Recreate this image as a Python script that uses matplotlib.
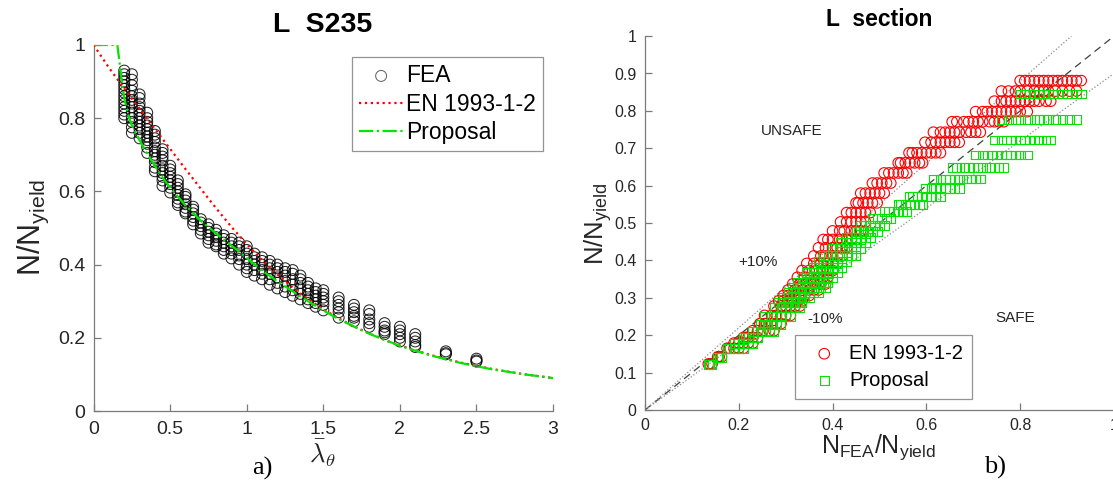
import numpy as np
import matplotlib
matplotlib.use('Agg')
import matplotlib.pyplot as plt

plt.rcParams['font.family'] = ['Liberation Sans', 'DejaVu Sans']
plt.rcParams['mathtext.fontset'] = 'custom'
plt.rcParams['mathtext.rm'] = 'Liberation Sans'
plt.rcParams['mathtext.it'] = 'Liberation Sans:italic'

# ---- data ----
# EN 1993-1-2 buckling curve (panel a)
en_lam = [0, 0.1, 0.2, 0.3, 0.4, 0.5, 0.6, 0.7, 0.8, 0.9, 1.0, 1.1, 1.2, 1.3, 1.4,
          1.5, 1.6, 1.7, 1.8, 1.9, 2.0, 2.2, 2.4, 2.6, 2.8, 3.0]
en_chi = [1.0, 0.938, 0.881, 0.826, 0.771, 0.716, 0.661, 0.607, 0.554, 0.503, 0.456,
          0.412, 0.373, 0.337, 0.306, 0.278, 0.253, 0.231, 0.212, 0.194, 0.179,
          0.153, 0.132, 0.115, 0.101, 0.090]

# Proposal curve (panel a)
prop_lam = [0, 0.155, 0.17, 0.185, 0.2, 0.225, 0.25, 0.3, 0.35, 0.4, 0.45, 0.5, 0.6,
            0.7, 0.8, 0.9, 1.0, 1.1, 1.2, 1.3, 1.4, 1.5, 1.6, 1.8, 2.0, 2.2, 2.4,
            2.6, 2.8, 3.0]
prop_chi = [1.0, 1.0, 0.95, 0.895, 0.855, 0.81, 0.78, 0.74, 0.703, 0.67, 0.638, 0.61,
            0.562, 0.52, 0.485, 0.452, 0.418, 0.384, 0.354, 0.327, 0.300, 0.275,
            0.251, 0.211, 0.178, 0.152, 0.131, 0.114, 0.101, 0.090]

# FEA results grouped by slenderness column
col_lam = [0.2, 0.25, 0.3, 0.35, 0.4, 0.45, 0.5, 0.55, 0.6, 0.65, 0.7, 0.75, 0.8,
           0.85, 0.9, 0.95, 1.0, 1.05, 1.1, 1.15, 1.2, 1.25, 1.3, 1.35, 1.4, 1.45,
           1.5, 1.6, 1.7, 1.8, 1.9, 2.0, 2.1, 2.3, 2.5]
# design values for each column (panel b rows)
col_en = [0.881, 0.853, 0.826, 0.798, 0.771, 0.743, 0.716, 0.688, 0.661, 0.634,
          0.607, 0.580, 0.554, 0.528, 0.503, 0.479, 0.456, 0.434, 0.412, 0.392,
          0.373, 0.355, 0.337, 0.321, 0.306, 0.292, 0.278, 0.253, 0.231, 0.212,
          0.194, 0.179, 0.165, 0.142, 0.123]
col_prop = [0.845, 0.778, 0.722, 0.682, 0.648, 0.618, 0.592, 0.570, 0.550, 0.530,
            0.512, 0.494, 0.478, 0.462, 0.447, 0.432, 0.413, 0.397, 0.382, 0.368,
            0.355, 0.342, 0.328, 0.315, 0.300, 0.287, 0.274, 0.250, 0.229, 0.210,
            0.193, 0.178, 0.164, 0.141, 0.122]
col_fea = [
    [0.93, 0.92, 0.91, 0.90, 0.89, 0.88, 0.87, 0.86, 0.85, 0.84, 0.83, 0.82, 0.81, 0.80],
    [0.92, 0.905, 0.89, 0.875, 0.86, 0.85, 0.84, 0.83, 0.815, 0.80, 0.79, 0.775, 0.76],
    [0.865, 0.855, 0.84, 0.83, 0.82, 0.81, 0.80, 0.79, 0.78, 0.77, 0.76, 0.745],
    [0.815, 0.80, 0.79, 0.78, 0.77, 0.76, 0.75, 0.74, 0.73, 0.72, 0.705],
    [0.765, 0.755, 0.745, 0.735, 0.72, 0.71, 0.70, 0.69, 0.68, 0.665, 0.655],
    [0.715, 0.705, 0.695, 0.685, 0.67, 0.66, 0.65, 0.64, 0.63, 0.615],
    [0.67, 0.66, 0.65, 0.64, 0.63, 0.62, 0.61, 0.597],
    [0.63, 0.62, 0.61, 0.60, 0.59, 0.58, 0.57, 0.563],
    [0.592, 0.585, 0.575, 0.565, 0.555, 0.545, 0.54],
    [0.558, 0.55, 0.54, 0.53, 0.52, 0.51],
    [0.524, 0.515, 0.505, 0.495, 0.485],
    [0.51, 0.50, 0.49, 0.48, 0.47, 0.46],
    [0.495, 0.485, 0.475, 0.465, 0.455, 0.45],
    [0.48, 0.47, 0.46, 0.45, 0.44, 0.43],
    [0.47, 0.46, 0.45, 0.44, 0.43, 0.417],
    [0.46, 0.45, 0.44, 0.425, 0.415, 0.40],
    [0.45, 0.44, 0.43, 0.415, 0.40, 0.39, 0.38],
    [0.43, 0.42, 0.41, 0.40, 0.385, 0.37],
    [0.42, 0.41, 0.40, 0.385, 0.375, 0.36],
    [0.41, 0.40, 0.39, 0.375, 0.36, 0.345],
    [0.40, 0.39, 0.38, 0.365, 0.35, 0.335],
    [0.39, 0.38, 0.37, 0.355, 0.34, 0.325],
    [0.385, 0.375, 0.36, 0.345, 0.33, 0.315],
    [0.37, 0.36, 0.35, 0.335, 0.32, 0.305],
    [0.35, 0.34, 0.33, 0.32, 0.305, 0.295],
    [0.335, 0.325, 0.315, 0.305, 0.295, 0.285],
    [0.33, 0.32, 0.31, 0.30, 0.29, 0.275],
    [0.31, 0.30, 0.29, 0.28, 0.27, 0.255],
    [0.29, 0.28, 0.27, 0.26, 0.255, 0.245],
    [0.275, 0.265, 0.25, 0.24, 0.23],
    [0.24, 0.23, 0.22, 0.215, 0.21],
    [0.23, 0.22, 0.21, 0.20, 0.19],
    [0.21, 0.20, 0.19, 0.18, 0.175],
    [0.163, 0.158, 0.155],
    [0.143, 0.138, 0.135],
]

a_ticks = [0, 0.5, 1, 1.5, 2, 2.5, 3]
a_ticklabels = ['0', '0.5', '1', '1.5', '2', '2.5', '3']
a_yticks = [0, 0.2, 0.4, 0.6, 0.8, 1]
a_yticklabels = ['0', '0.2', '0.4', '0.6', '0.8', '1']
b_ticks = [0, 0.2, 0.4, 0.6, 0.8, 1]
b_ticklabels = ['0', '0.2', '0.4', '0.6', '0.8', '1']
b_yticks = [0, 0.1, 0.2, 0.3, 0.4, 0.5, 0.6, 0.7, 0.8, 0.9, 1]
b_yticklabels = ['0', '0.1', '0.2', '0.3', '0.4', '0.5', '0.6', '0.7', '0.8', '0.9', '1']

RED = '#ff0000'
GREEN = '#00e600'
AXCOL = '#7a7a7a'
TXTCOL = '#262626'

# flatten column data
lam_pts, fea_pts, en_pts, prop_pts = [], [], [], []
for lam, en, pr, vals in zip(col_lam, col_en, col_prop, col_fea):
    for v in vals:
        lam_pts.append(lam)
        fea_pts.append(v)
        en_pts.append(en)
        prop_pts.append(pr)


def style_axes(ax, labelsize):
    for side in ['top', 'right']:
        ax.spines[side].set_visible(False)
    for side in ['left', 'bottom']:
        ax.spines[side].set_color(AXCOL)
        ax.spines[side].set_linewidth(0.9)
    ax.tick_params(direction='in', length=5, width=0.9, color=AXCOL,
                   labelcolor=TXTCOL, labelsize=labelsize)


fig = plt.figure(figsize=(11.13, 4.9), dpi=100)

# ---- panel a ----
ax1 = fig.add_axes([0.0841, 0.1612, 0.4128, 0.747])
ax1.scatter(lam_pts, fea_pts, s=62, facecolors='none', edgecolors='black',
            linewidths=0.75, alpha=0.85, label='FEA', zorder=3)
ax1.plot(en_lam, en_chi, ':', color=RED, lw=1.6, label='EN 1993-1-2', zorder=4)
ax1.plot(prop_lam, prop_chi, '-.', color=GREEN, lw=1.6, label='Proposal', zorder=4)
ax1.set_xlim(0, 3)
ax1.set_ylim(0, 1)
ax1.set_xticks(a_ticks)
ax1.set_xticklabels(a_ticklabels)
ax1.set_yticks(a_yticks)
ax1.set_yticklabels(a_yticklabels)
style_axes(ax1, 14)
ax1.tick_params(axis='x', pad=7)
ax1.tick_params(axis='y', pad=6)
leg1 = ax1.legend(loc='upper right', bbox_to_anchor=(0.978, 0.967), borderaxespad=0,
                  fontsize=16.5, frameon=True, fancybox=False, handlelength=1.9,
                  handletextpad=0.15, borderpad=0.3, labelspacing=0.25)
leg1.get_frame().set_edgecolor(AXCOL)
leg1.get_frame().set_linewidth(0.9)
for h in leg1.legend_handles:
    h.set_alpha(0.6 if h.get_label() == 'FEA' else 1)

fig.text(0.290, 0.949, 'L  S235', ha='center', va='center', fontsize=20.5,
         fontweight='bold')
fig.text(0.030, 0.535, r'N/N$_{\mathrm{yield}}$', ha='center', va='center',
         rotation=90, fontsize=22, color=TXTCOL)
fig.text(0.290, 0.076, r'$\bar{\lambda}_{\theta}$', ha='center', va='center',
         fontsize=19, color=TXTCOL, math_fontfamily='cm')
fig.text(0.236, 0.044, 'a)', ha='center', va='center', fontsize=19,
         family='Liberation Serif')

# ---- panel b ----
ax2 = fig.add_axes([0.5795, 0.1633, 0.4214, 0.763])
ax2.plot([0, 1], [0, 1], '--', color='#404040', lw=0.9, dashes=(6, 4), zorder=2)
ax2.plot([0, 1 / 1.1], [0, 1], ':', color='#8a8a8a', lw=0.9, zorder=2)
ax2.plot([0, 1], [0, 0.9], ':', color='#8a8a8a', lw=0.9, zorder=2)
ax2.scatter(fea_pts, en_pts, s=58, marker='o', facecolors='none', edgecolors=RED,
            linewidths=0.8, label='EN 1993-1-2', zorder=3)
ax2.scatter(fea_pts, prop_pts, s=40, marker='s', facecolors='none', edgecolors=GREEN,
            linewidths=0.8, label='Proposal', zorder=3)
ax2.set_xlim(0, 1)
ax2.set_ylim(0, 1)
ax2.set_xticks(b_ticks)
ax2.set_xticklabels(b_ticklabels)
ax2.set_yticks(b_yticks)
ax2.set_yticklabels(b_yticklabels)
style_axes(ax2, 11.5)
ax2.tick_params(axis='x', pad=6)
ax2.tick_params(axis='y', pad=6)

ax2.text(0.312, 0.747, 'UNSAFE', ha='center', va='center', fontsize=11, color=TXTCOL)
ax2.text(0.240, 0.397, '+10%', ha='center', va='center', fontsize=11, color=TXTCOL)
ax2.text(0.384, 0.243, '-10%', ha='center', va='center', fontsize=11, color=TXTCOL)
ax2.text(0.789, 0.246, 'SAFE', ha='center', va='center', fontsize=11, color=TXTCOL)

leg2 = ax2.legend(loc='lower left', bbox_to_anchor=(0.32, 0.029), borderaxespad=0,
                  fontsize=14.5, frameon=True, fancybox=False, handlelength=2.0,
                  handletextpad=0.25, borderpad=0.45, labelspacing=0.4)
leg2.get_frame().set_edgecolor(AXCOL)
leg2.get_frame().set_linewidth(0.9)

fig.text(0.790, 0.961, 'L  section', ha='center', va='center', fontsize=16.5,
         fontweight='bold')
fig.text(0.537, 0.543, r'N/N$_{\mathrm{yield}}$', ha='center', va='center',
         rotation=90, fontsize=18.5, color=TXTCOL)
fig.text(0.789, 0.088, r'N$_{\mathrm{FEA}}$/N$_{\mathrm{yield}}$', ha='center',
         va='center', fontsize=18, color=TXTCOL)
fig.text(0.894, 0.046, 'b)', ha='center', va='center', fontsize=19,
         family='Liberation Serif')

fig.savefig('out.png', dpi=100)
